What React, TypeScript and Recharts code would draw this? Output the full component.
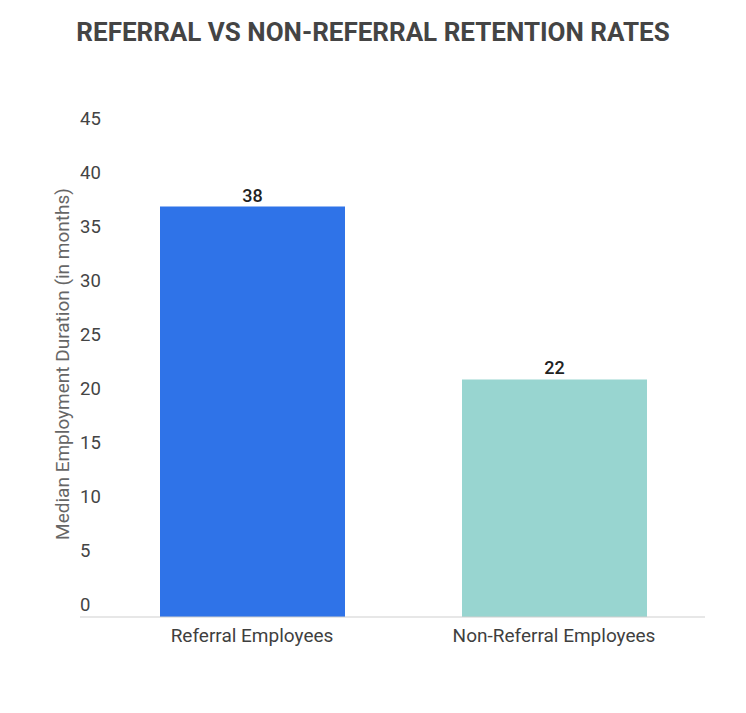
import React from 'react'
import { BarChart, Bar, XAxis, YAxis, LabelList, Cell } from 'recharts'

const categories = ['Referral Employees', 'Non-Referral Employees']
const durations = [38, 22]
const barColors = ['#2F73E8', '#98D5D0']
const yTicks = [0, 5, 10, 15, 20, 25, 30, 35, 40, 45]

const chartData = categories.map((name, i) => ({ name, value: durations[i] }))

const FONT = 'Roboto, "Noto Sans", sans-serif'

// y tick labels sit left-aligned, a little above the value they mark
const YTick = ({ y, payload }: any) => (
  <text
    x={80}
    y={y - 12}
    textAnchor="start"
    dominantBaseline="central"
    fontSize={18.5}
    fontFamily={FONT}
    fill="#444"
  >
    {payload.value}
  </text>
)

const XTick = ({ x, y, payload }: any) => (
  <text
    x={x}
    y={y + 10}
    textAnchor="middle"
    dominantBaseline="central"
    fontSize={19}
    fontFamily={FONT}
    fill="#3f3f3f"
  >
    {payload.value}
  </text>
)

const YAxisTitle = () => (
  <text
    x={62}
    y={364}
    transform="rotate(-90, 62, 364)"
    textAnchor="middle"
    dominantBaseline="central"
    fontSize={19}
    fontFamily={FONT}
    fill="#666"
  >
    Median Employment Duration (in months)
  </text>
)

export default function App() {
  return (
    <div style={{ position: 'absolute', left: 0, top: 0, width: 746, height: 713, background: '#fff' }}>
      <div
        style={{
          position: 'absolute',
          top: 15,
          left: 0,
          width: 746,
          textAlign: 'center',
          fontFamily: FONT,
          fontWeight: 700,
          fontSize: 26,
          color: '#444',
          lineHeight: '34px',
        }}
      >
        REFERRAL VS NON-REFERRAL RETENTION RATES
      </div>
      <BarChart
        width={746}
        height={713}
        data={chartData}
        margin={{ top: 131, right: 41, left: 0, bottom: 56 }}
      >
        <XAxis
          dataKey="name"
          height={40}
          padding={{ left: 21, right: 0 }}
          axisLine={{ stroke: '#cfcfcf' }}
          tickLine={false}
          tick={<XTick />}
          interval={0}
        />
        <YAxis
          width={80}
          domain={[0, 45]}
          ticks={yTicks}
          axisLine={false}
          tickLine={false}
          tick={<YTick />}
          label={<YAxisTitle />}
        />
        <Bar dataKey="value" barSize={185} isAnimationActive={false}>
          {chartData.map((d, i) => (
            <Cell key={d.name} fill={barColors[i]} />
          ))}
          <LabelList
            dataKey="value"
            position="top"
            offset={5}
            fontSize={18}
            fontFamily={FONT}
            fontWeight={500}
            fill="#222"
          />
        </Bar>
      </BarChart>
    </div>
  )
}
